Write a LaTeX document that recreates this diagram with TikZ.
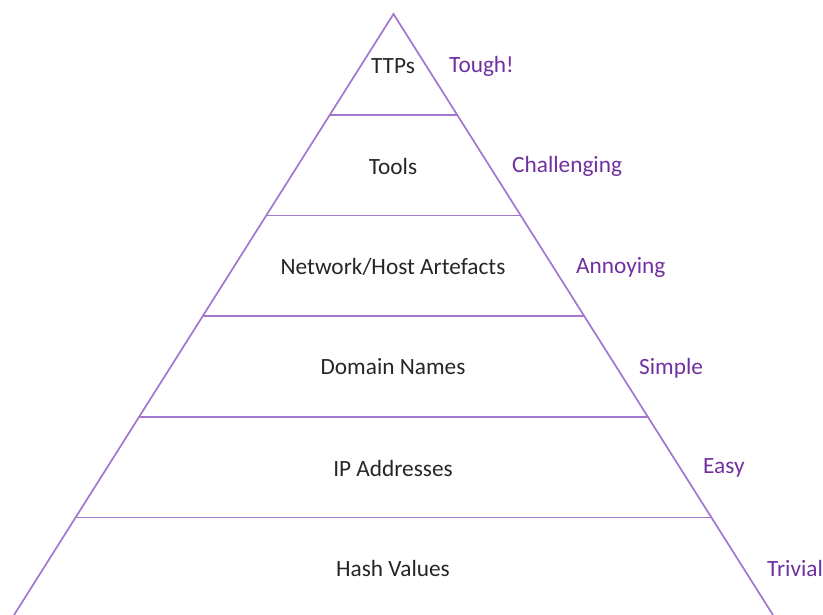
\documentclass[tikz,border=0pt]{standalone}
\usepackage{fontspec}
\setmainfont{Carlito}
\usetikzlibrary{calc}
\definecolor{pyrline}{RGB}{163,118,208}
\definecolor{pyrtext}{RGB}{112,48,160}
\begin{document}
\begin{tikzpicture}[x=1pt,
y=-1pt,
every node/.style={
inner sep=0pt,
font=\fontsize{23.3}{27}\selectfont,
},
level/.style={
text=black!85,
},
effort/.style={
anchor=west,
text=pyrtext,
},
edge/.style={
draw=pyrline,
line width=1.7pt,
}]
\useasboundingbox (0,0) rectangle (823,615);

%pyramid outline
\coordinate (apex) at (393.5,14);
\coordinate (bl) at (14,615);
\coordinate (br) at (773,615);
\draw[edge,line join=miter] (bl) -- (apex) -- (br);

%level separators
\foreach \k in {1,...,5}{
\coordinate (l\k) at ($(apex)!\k*0.1676!(bl)$);
\coordinate (r\k) at ($(apex)!\k*0.1676!(br)$);
\draw[edge] (l\k) -- (r\k);
}

%level names
\node[level] (ttps) at (393,66){TTPs};
\node[level] (tools) at (393,166){Tools};
\node[level] (artefacts) at (393,267){Network/Host Artefacts};
\node[level] (domains) at (393,367){Domain Names};
\node[level] (ips) at (393,468){IP Addresses};
\node[level] (hashes) at (393,568){Hash Values};

%pain to the adversary
\node[effort] (tough) at (449,66){Tough!};
\node[effort] (challenging) at (512,166){Challenging};
\node[effort] (annoying) at (576,267){Annoying};
\node[effort] (simple) at (639,368){Simple};
\node[effort] (easy) at (703,468){Easy};
\node[effort] (trivial) at (767,568){Trivial};
\end{tikzpicture}
\end{document}
